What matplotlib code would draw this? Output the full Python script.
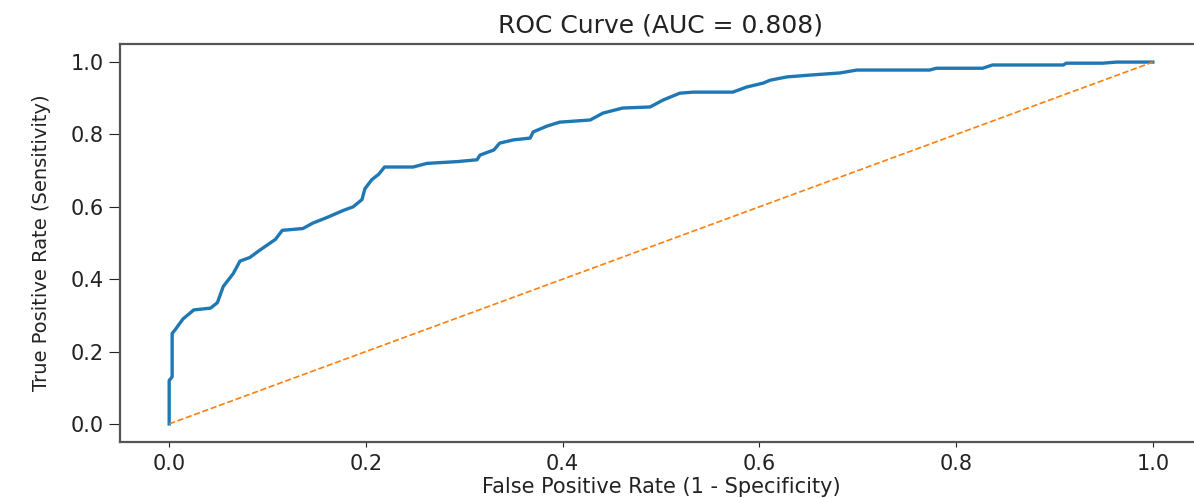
from matplotlib import pyplot as plt

# ROC points
fpr = [0.0, 0.0, 0.003, 0.003, 0.006, 0.014, 0.025, 0.042, 0.049, 0.055,
       0.065, 0.072, 0.082, 0.092, 0.100, 0.108, 0.115, 0.136, 0.146, 0.160,
       0.177, 0.187, 0.196, 0.199, 0.206, 0.213, 0.219, 0.248, 0.262, 0.293,
       0.313, 0.316, 0.330, 0.336, 0.350, 0.367, 0.370, 0.384, 0.397, 0.428,
       0.441, 0.461, 0.489, 0.502, 0.519, 0.533, 0.573, 0.587, 0.604, 0.611,
       0.628, 0.651, 0.682, 0.699, 0.773, 0.780, 0.827, 0.837, 0.909, 0.912,
       0.949, 0.963, 1.0]
tpr = [0.0, 0.12, 0.13, 0.25, 0.26, 0.29, 0.315, 0.32, 0.335, 0.38,
       0.415, 0.45, 0.46, 0.48, 0.495, 0.51, 0.535, 0.54, 0.555, 0.57,
       0.59, 0.60, 0.62, 0.65, 0.675, 0.69, 0.71, 0.71, 0.72, 0.725,
       0.73, 0.743, 0.757, 0.776, 0.785, 0.79, 0.807, 0.823, 0.834, 0.84,
       0.859, 0.873, 0.876, 0.895, 0.914, 0.917, 0.917, 0.931, 0.942, 0.95,
       0.959, 0.964, 0.97, 0.978, 0.978, 0.983, 0.983, 0.992, 0.992, 0.997,
       0.997, 1.0, 1.0]
auc = 0.808

chance_x = [0, 1]
chance_y = [0, 1]
ticks = [0.0, 0.2, 0.4, 0.6, 0.8, 1.0]

fig = plt.figure(figsize=(11.94, 4.98), dpi=100)
ax = fig.add_axes([120 / 1194, 56 / 498, 1082 / 1194, 398 / 498])

ax.plot(fpr, tpr, color='tab:blue', linewidth=2.4)
ax.plot(chance_x, chance_y, linestyle='--', color='tab:orange', linewidth=1.2)

ax.set_xlim(-0.05, 1.05)
ax.set_ylim(-0.05, 1.05)
ax.set_xticks(ticks)
ax.set_yticks(ticks)
ax.tick_params(axis='both', labelsize=15, colors='#222222')
ax.tick_params(axis='x', pad=5)
ax.tick_params(axis='y', length=8)

for sp in ax.spines.values():
    sp.set_linewidth(1.6)
    sp.set_color('#555555')

ax.set_title("ROC Curve (AUC = %.3f)" % auc, fontsize=18, pad=8, color='#222222')
ax.set_xlabel("False Positive Rate (1 - Specificity)", fontsize=15, labelpad=2, color='#222222')
ax.set_ylabel("True Positive Rate (Sensitivity)", fontsize=14, labelpad=14, color='#222222')

fig.savefig("out.png", dpi=100)
